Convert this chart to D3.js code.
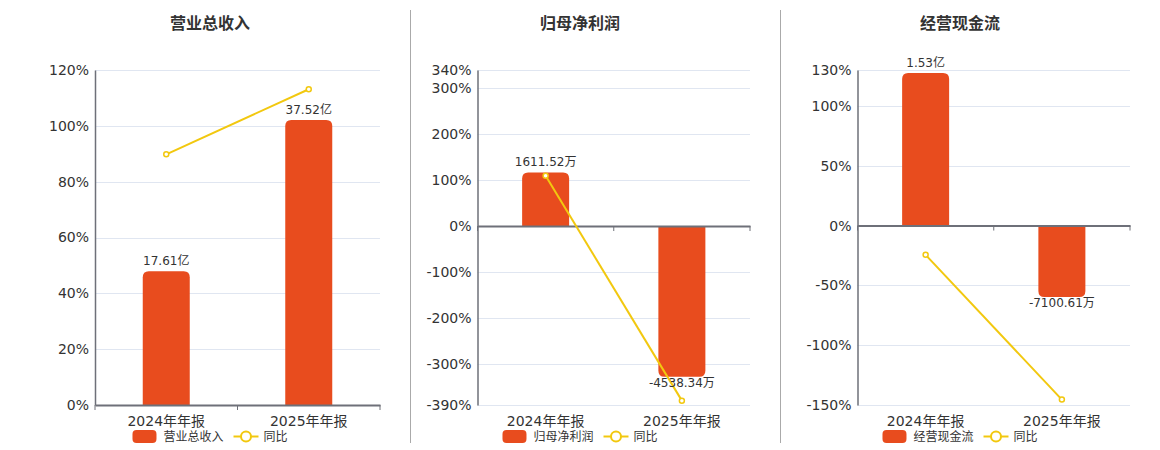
<!DOCTYPE html>
<html>
<head>
<meta charset="utf-8">
<script src="https://cdn.jsdelivr.net/npm/d3@7"></script>
<style>
  body { margin: 0; background: #fff; }
  svg text { font-family: "DejaVu Sans", "Noto Sans CJK SC", sans-serif; }
</style>
</head>
<body>
<div id="chart"></div>
<script>
// data
var categories = ["2024年年报", "2025年年报"]
var titles = ["营业总收入", "归母净利润", "经营现金流"]

var revenueVals = [17.61, 37.52]            // 亿
var revenueLabels = ["17.61亿", "37.52亿"]
var revenueYoy = [89.8, 113.1]
var revenueTicks = [0, 20, 40, 60, 80, 100, 120]

var profitVals = [1611.52, -4538.34]        // 万
var profitLabels = ["1611.52万", "-4538.34万"]
var profitYoy = [109.6, -380.5]
var profitTicks = [-390, -300, -200, -100, 0, 100, 200, 300, 340]

var cashVals = [15300, -7100.61]            // 万
var cashLabels = ["1.53亿", "-7100.61万"]
var cashYoy = [-24.5, -145.5]
var cashTicks = [-150, -100, -50, 0, 50, 100, 130]

var barColor = "#e84c1e"
var lineColor = "#f2c80f"

var width = 1160, height = 450

var panels = [
    { title: titles[0], vals: revenueVals, labels: revenueLabels, yoy: revenueYoy, ticks: revenueTicks,
      barDomain: [0, 44.1], left: 95, right: 380, center: 210 },
    { title: titles[1], vals: profitVals, labels: profitLabels, yoy: profitYoy, ticks: profitTicks,
      barDomain: [-5391, 4698], left: 477.5, right: 750, center: 580 },
    { title: titles[2], vals: cashVals, labels: cashLabels, yoy: cashYoy, ticks: cashTicks,
      barDomain: [-17900, 15600], left: 857.5, right: 1130, center: 960 }
]

var margin = { top: 70, bottom: 405 }

var svg = d3.select("#chart").append("svg")
    .attr("width", width)
    .attr("height", height)

// separators between panels
svg.selectAll("line.sep")
    .data([410.5, 780.5])
    .enter()
    .append("line")
    .attr("class", "sep")
    .attr("x1", d => d).attr("x2", d => d)
    .attr("y1", 10).attr("y2", 443)
    .attr("stroke", "#aaa")
    .attr("stroke-width", 1)

panels.forEach(drawPanel)

// rounded on the far end of the bar only
function barPath(x, w, y0, y1, r) {
    var up = y1 < y0
    var top = Math.min(y0, y1), bot = Math.max(y0, y1)
    r = Math.min(r, (bot - top) / 2)
    if (up) {
        return `M${x},${bot}V${top + r}Q${x},${top} ${x + r},${top}H${x + w - r}Q${x + w},${top} ${x + w},${top + r}V${bot}Z`
    }
    return `M${x},${top}V${bot - r}Q${x},${bot} ${x + r},${bot}H${x + w - r}Q${x + w},${bot} ${x + w},${bot - r}V${top}Z`
}

function drawPanel(p) {
    var g = svg.append("g")

    var yScale = d3.scaleLinear()
        .domain(d3.extent(p.ticks))
        .range([margin.bottom, margin.top])

    var barScale = d3.scaleLinear()
        .domain(p.barDomain)
        .range([margin.bottom, margin.top])

    var xScale = d3.scaleBand()
        .domain(categories)
        .range([p.left, p.right])

    // title
    g.append("text")
        .attr("x", p.center)
        .attr("y", 29)
        .attr("text-anchor", "middle")
        .attr("font-size", "16px")
        .attr("font-weight", "bold")
        .attr("fill", "#333")
        .text(p.title)

    // grid
    g.selectAll("line.grid")
        .data(p.ticks.filter(t => t != 0))
        .enter()
        .append("line")
        .attr("x1", p.left).attr("x2", p.right)
        .attr("y1", d => Math.round(yScale(d)) + 0.5)
        .attr("y2", d => Math.round(yScale(d)) + 0.5)
        .attr("stroke", "#e0e6f1")

    // y axis
    var yAxis = d3.axisLeft(yScale)
        .tickValues(p.ticks)
        .tickFormat(d => d + "%")
        .tickSize(0)
        .tickPadding(6)
    var yg = g.append("g")
        .attr("transform", `translate(${p.left},0)`)
        .call(yAxis)
    yg.select(".domain").attr("stroke", "#6e7079").attr("stroke-width", 1.5)
    yg.selectAll("text")
        .attr("font-size", "14px")
        .attr("fill", "#333")
        .style("font-family", "DejaVu Sans, sans-serif")

    var zeroY = yScale(0)

    // bars
    var bw = 47
    g.selectAll("path.bar")
        .data(p.vals)
        .enter()
        .append("path")
        .attr("class", "bar")
        .attr("d", (d, i) => barPath(xScale(categories[i]) + xScale.bandwidth() / 2 - bw / 2, bw, zeroY, barScale(d), 6))
        .attr("fill", barColor)

    // x axis at zero
    var xAxis = d3.axisBottom(xScale).tickSize(0).tickPadding(0).tickFormat("")
    var xg = g.append("g")
        .attr("transform", `translate(0,${zeroY})`)
        .call(xAxis)
    xg.select(".domain").attr("stroke", "#6e7079").attr("stroke-width", 2)
    xg.selectAll(".tick").remove()
    g.selectAll("line.xtick")
        .data([p.left, (p.left + p.right) / 2, p.right])
        .enter()
        .append("line")
        .attr("x1", d => d).attr("x2", d => d)
        .attr("y1", zeroY).attr("y2", zeroY + 5)
        .attr("stroke", "#6e7079")

    // category labels at the bottom
    g.selectAll("text.cat")
        .data(categories)
        .enter()
        .append("text")
        .attr("x", d => xScale(d) + xScale.bandwidth() / 2)
        .attr("y", 426)
        .attr("text-anchor", "middle")
        .attr("font-size", "14px")
        .attr("fill", "#333")
        .text(d => d)

    // yoy line
    var line = d3.line()
        .x((d, i) => xScale(categories[i]) + xScale.bandwidth() / 2)
        .y(d => yScale(d))
    g.append("path")
        .datum(p.yoy)
        .attr("d", line)
        .attr("fill", "none")
        .attr("stroke", lineColor)
        .attr("stroke-width", 2)

    // bar labels
    g.selectAll("text.val")
        .data(p.vals)
        .enter()
        .append("text")
        .attr("x", (d, i) => xScale(categories[i]) + xScale.bandwidth() / 2)
        .attr("y", d => d >= 0 ? barScale(d) - 6 : barScale(d) + 10)
        .attr("text-anchor", "middle")
        .attr("font-size", "12px")
        .attr("fill", "#333")
        .text((d, i) => p.labels[i])

    g.selectAll("circle.pt")
        .data(p.yoy)
        .enter()
        .append("circle")
        .attr("cx", (d, i) => xScale(categories[i]) + xScale.bandwidth() / 2)
        .attr("cy", d => yScale(d))
        .attr("r", 2.5)
        .attr("fill", "#fff")
        .attr("stroke", lineColor)
        .attr("stroke-width", 1.5)

    // legend
    var lg = g.append("g")
    lg.append("rect")
        .attr("x", 0).attr("y", 430)
        .attr("width", 24).attr("height", 13)
        .attr("rx", 4)
        .attr("fill", barColor)
    var t1 = lg.append("text")
        .attr("x", 31).attr("y", 441)
        .attr("font-size", "12px")
        .attr("fill", "#333")
        .text(p.title)
    var x2 = 31 + t1.node().getComputedTextLength() + 10
    lg.append("line")
        .attr("x1", x2).attr("x2", x2 + 25)
        .attr("y1", 436.5).attr("y2", 436.5)
        .attr("stroke", lineColor)
        .attr("stroke-width", 2)
    lg.append("circle")
        .attr("cx", x2 + 12.5).attr("cy", 436.5)
        .attr("r", 5)
        .attr("fill", "#fff")
        .attr("stroke", lineColor)
        .attr("stroke-width", 2)
    var t2 = lg.append("text")
        .attr("x", x2 + 30).attr("y", 441)
        .attr("font-size", "12px")
        .attr("fill", "#333")
        .text("同比")
    var total = x2 + 30 + t2.node().getComputedTextLength()
    lg.attr("transform", `translate(${p.center - total / 2},0)`)
}
</script>
</body>
</html>
